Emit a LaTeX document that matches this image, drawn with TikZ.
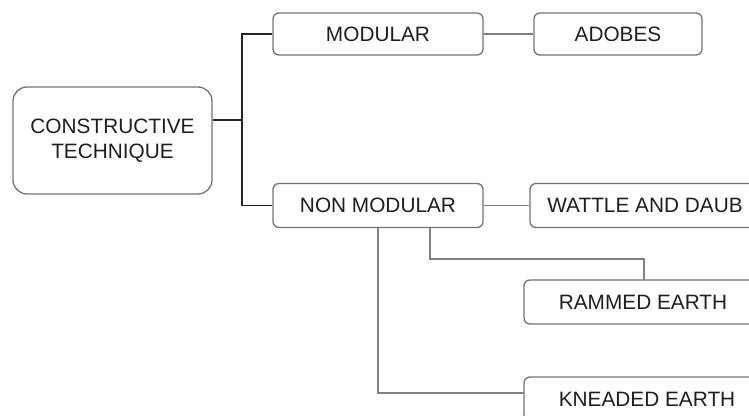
\documentclass[tikz,border=0pt]{standalone}
\usepackage{fontspec}
\setmainfont{Liberation Sans}
\begin{document}
\begin{tikzpicture}[x=1pt,y=-1pt,
  box/.style={draw=black!55, line width=1.3pt, rounded corners=6pt, fill=white, text=black!88,
    font=\fontsize{20.8}{24.5}\selectfont, inner sep=0pt, align=center},
  mainline/.style={draw=black!85, line width=1.5pt},
  subline/.style={draw=black!50, line width=1.3pt}]
\useasboundingbox (0,0) rectangle (749,415);
\begin{scope}
\clip (0,0) rectangle (749,415);
\node[box, rounded corners=14pt, minimum width=199pt, minimum height=107pt] (ct) at (112.5,140.5) {CONSTRUCTIVE\\TECHNIQUE};
\node[box, minimum width=210pt, minimum height=42pt] (mod) at (378,34) {MODULAR};
\node[box, minimum width=168pt, minimum height=42pt] (ado) at (618,34) {ADOBES};
\node[box, minimum width=210pt, minimum height=44pt] (nmod) at (378,205.5) {NON MODULAR};
\node[box, minimum width=230pt, minimum height=44pt] (wat) at (645,205.5) {WATTLE AND DAUB};
\node[box, minimum width=238pt, minimum height=44pt] (ram) at (643,302) {RAMMED EARTH};
\node[box, minimum width=246pt, minimum height=44pt] (kne) at (647,399) {KNEADED EARTH};
\coordinate (j) at (242,120);
\draw[mainline] (ct.east |- j) -- (j);
\draw[mainline] (mod.west) -| (j |- mod.west) -- (j |- nmod.west) -- (nmod.west);
\draw[subline] (mod.east) -- (ado.west);
\draw[subline] (nmod.east) -- (wat.west);
\draw[subline] (430,227.5) |- (644,259) -- (644,280);
\draw[subline] (378,227.5) |- (524,393);
\end{scope}
\end{tikzpicture}
\end{document}
